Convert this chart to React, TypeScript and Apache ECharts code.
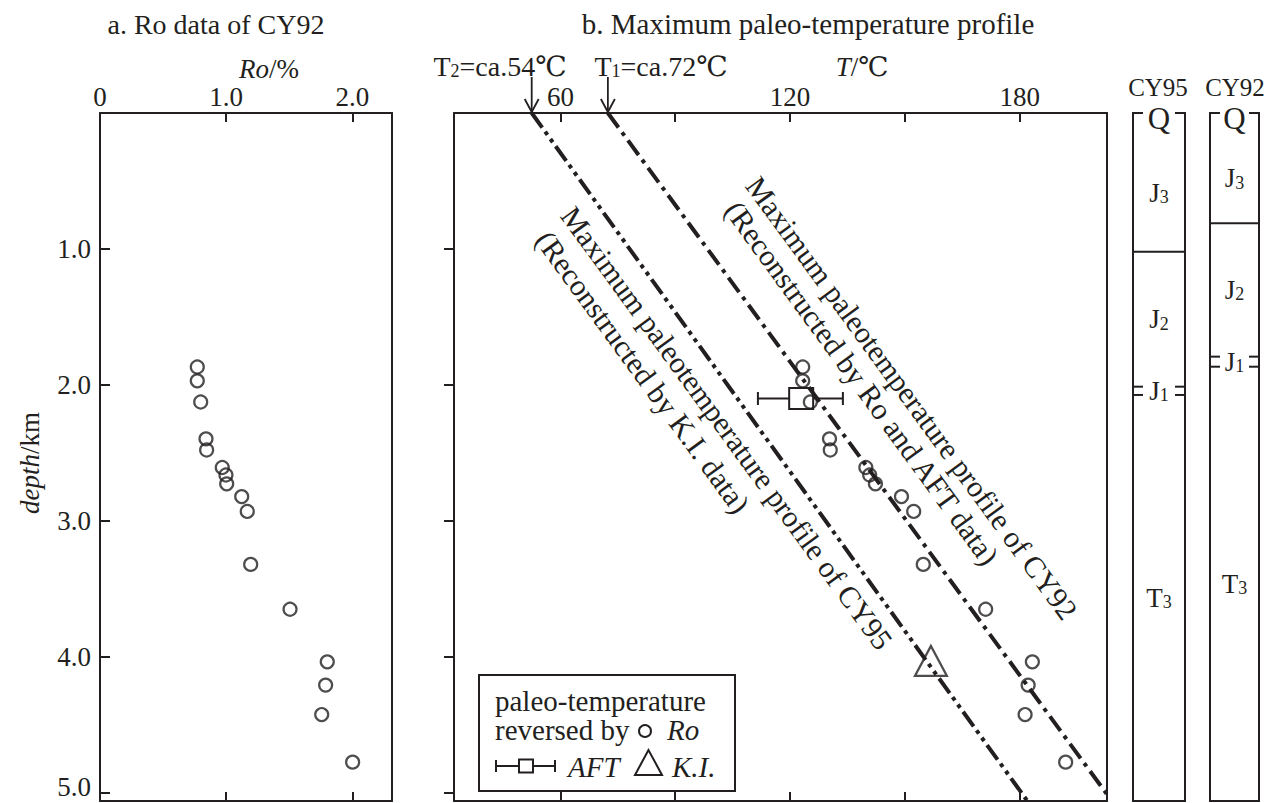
import React, { useEffect, useRef } from 'react';
import * as echarts from 'echarts';

const INK = '#231f20';
const FONT = "'Liberation Serif', 'Times New Roman', 'DejaVu Serif', serif";

// ---- a. Ro data of CY92 ----
const sampleDepths = [1.869, 1.971, 2.127, 2.398, 2.48, 2.609, 2.664, 2.729, 2.823, 2.932, 3.322, 3.652, 4.039, 4.21, 4.427, 4.777];
const roValues = [0.771, 0.771, 0.798, 0.84, 0.845, 0.969, 0.998, 1.004, 1.123, 1.167, 1.194, 1.506, 1.801, 1.788, 1.757, 2.002];

// ---- b. paleo-temperatures reversed by Ro (same depths) ----
const roTemps = [123.3, 123.3, 125.3, 130.3, 130.5, 139.8, 140.8, 142.3, 149.1, 152.3, 154.8, 171.1, 183.3, 182.2, 181.4, 192.0];

// AFT: [low, high, central temperature, depth]
const aftPoint = [111.6, 133.8, 122.9, 2.101];
// K.I.: [temperature, depth]
const kiPoint = [156.8, 4.032];

// reconstructed maximum paleotemperature profiles [T, depth]
const cy92Profile = [[72.4, 0], [202.7, 5.01]];
const cy95Profile = [[52.5, 0], [182.0, 5.063]];
const surfaceTemps = [52.5, 72.4];

// axis ticks
const depthTicks = [1, 2, 3, 4, 5];
const roLabelTicks = [0, 1, 2];
const roInnerTicks = [1, 2];
const tempTicks = [60, 90, 120, 150, 180];
const tempLabelTicks = [60, 120, 180];

// strata columns
const cy95Names = ['Q', 'J', 'J', 'J', 'T'];
const cy95Subs = ['', '3', '2', '1', '3'];
const cy95Tops = [0, 0.15, 1.021, 2.014, 2.075];
const cy95Bottoms = [0.15, 1.021, 2.014, 2.075, 5.063];
const cy95Kinds = ['cap', 'main', 'main', 'thin', 'main'];

const cy92Names = ['Q', 'J', 'J', 'J', 'T'];
const cy92Subs = ['', '3', '2', '1', '3'];
const cy92Tops = [0, 0.15, 0.812, 1.793, 1.867];
const cy92Bottoms = [0.15, 0.812, 1.793, 1.867, 5.063];
const cy92Kinds = ['cap', 'main', 'main', 'thin', 'main'];

const DEPTH_MAX = 5.063;

function strataSeries(axisIndex: number, names: string[], subs: string[], tops: number[], bottoms: number[], kinds: string[]) {
  return {
    type: 'custom',
    xAxisIndex: axisIndex,
    yAxisIndex: axisIndex,
    clip: false,
    silent: true,
    data: tops.map((t, i) => [0.5, t, bottoms[i]]),
    renderItem: (params: any, api: any) => {
      const i = params.dataIndex;
      const cs = params.coordSys;
      const xL = cs.x;
      const xR = cs.x + cs.width;
      const xc = (xL + xR) / 2;
      const yT = api.coord([0, api.value(1)])[1];
      const yB = api.coord([0, api.value(2)])[1];
      const kind = kinds[i];
      const children: any[] = [];
      const ln = (x1: number, y1: number, x2: number, y2: number) => ({
        type: 'line',
        shape: { x1, y1, x2, y2 },
        style: { stroke: INK, lineWidth: 2 },
      });
      const seg = 10;
      if (kind === 'cap') {
        const gTop = cs.y;
        const gBot = cs.y + cs.height;
        children.push(ln(xL, gTop, xL, gBot));
        children.push(ln(xR, gTop, xR, gBot));
        children.push(ln(xL - 1, gBot, xR + 1, gBot));
        children.push(ln(xL - 1, gTop, xL + seg, gTop));
        children.push(ln(xR - seg, gTop, xR + 1, gTop));
        children.push({
          type: 'text',
          x: xc,
          y: gTop + 5,
          style: {
            text: names[i],
            fontSize: 31,
            fontFamily: FONT,
            fill: INK,
            align: 'center',
            verticalAlign: 'middle',
            textAlign: 'center',
            textVerticalAlign: 'middle',
          },
        });
      } else {
        children.push({
          type: 'text',
          x: xc,
          y: (yT + yB) / 2,
          style: {
            text: `{b|${names[i]}}{s|${subs[i]}}`,
            fill: INK,
            align: 'center',
            verticalAlign: 'middle',
            textAlign: 'center',
            textVerticalAlign: 'middle',
            rich: {
              b: { fontSize: 27, fontFamily: FONT, fill: INK },
              s: { fontSize: 18, fontFamily: FONT, fill: INK, verticalAlign: 'bottom' },
            },
          },
        });
        if (kind === 'thin') {
          children.push(ln(xL, yT, xL + seg, yT));
          children.push(ln(xR - seg, yT, xR, yT));
          children.push(ln(xL, yB, xL + seg, yB));
          children.push(ln(xR - seg, yB, xR, yB));
        } else if (i < kinds.length - 1 && kinds[i + 1] === 'main') {
          children.push(ln(xL, yB, xR, yB));
        }
      }
      return { type: 'group', children };
    },
  };
}

const axisLineStyle = { show: true, onZero: false, lineStyle: { color: INK, width: 2 } };
const labelStyle = { color: INK, fontSize: 27, fontFamily: FONT };

function buildOption() {
  const hollow = { color: 'rgba(255,255,255,0)', borderColor: INK, borderWidth: 2.2 };
  const rotText = (x: number, y: number, text: string) => ({
    type: 'text',
    x,
    y,
    rotation: -0.94,
    silent: true,
    style: {
      text,
      fontSize: 30,
      fontFamily: FONT,
      fill: INK,
      align: 'center',
      verticalAlign: 'middle',
      textAlign: 'center',
      textVerticalAlign: 'middle',
    },
  });
  const plainText = (x: number, y: number, text: string, size: number, extra: any = {}) => ({
    type: 'text',
    x,
    y,
    silent: true,
    style: {
      text,
      fontSize: size,
      fontFamily: FONT,
      fill: INK,
      align: 'center',
      verticalAlign: 'middle',
      textAlign: 'center',
      textVerticalAlign: 'middle',
      ...extra,
    },
  });
  const richText = (x: number, y: number, text: string, rich: any, align = 'center', rotation = 0) => ({
    type: 'text',
    x,
    y,
    rotation,
    silent: true,
    style: {
      text,
      fill: INK,
      align,
      verticalAlign: 'middle',
      textAlign: align,
      textVerticalAlign: 'middle',
      rich,
    },
  });
  const rn = (size: number) => ({ fontSize: size, fontFamily: FONT, fill: INK });
  const ri = (size: number) => ({ fontSize: size, fontFamily: FONT, fill: INK, fontStyle: 'italic' });
  const rs = (size: number) => ({ fontSize: size, fontFamily: FONT, fill: INK, verticalAlign: 'bottom' });

  const gridBase = { outerBoundsMode: 'none', containLabel: false };

  return {
    animation: false,
    backgroundColor: '#ffffff',
    grid: [
      { ...gridBase, left: 100, top: 113, width: 292, height: 688 },
      { ...gridBase, left: 454, top: 113, width: 653, height: 688 },
      { ...gridBase, left: 1133, top: 113, width: 52, height: 688 },
      { ...gridBase, left: 1210, top: 113, width: 49, height: 688 },
    ],
    xAxis: [
      {
        gridIndex: 0, type: 'value', position: 'top', min: 0, max: 2.314,
        axisLine: axisLineStyle,
        axisTick: { show: true, inside: true, length: 9, customValues: roInnerTicks, lineStyle: { color: INK, width: 2 } },
        axisLabel: { ...labelStyle, margin: 3, customValues: roLabelTicks, formatter: (v: number) => (v === 0 ? '0' : v.toFixed(1)) },
        splitLine: { show: false },
      },
      {
        gridIndex: 0, type: 'value', position: 'bottom', min: 0, max: 2.314,
        axisLine: axisLineStyle,
        axisTick: { show: true, inside: true, length: 9, customValues: roInnerTicks, lineStyle: { color: INK, width: 2 } },
        axisLabel: { show: false },
        splitLine: { show: false },
      },
      {
        gridIndex: 1, type: 'value', position: 'top', min: 32.2, max: 202.8,
        axisLine: axisLineStyle,
        axisTick: { show: true, inside: true, length: 9, customValues: tempTicks, lineStyle: { color: INK, width: 2 } },
        axisLabel: { ...labelStyle, margin: 3, customValues: tempLabelTicks, formatter: (v: number) => String(v) },
        splitLine: { show: false },
      },
      {
        gridIndex: 1, type: 'value', position: 'bottom', min: 32.2, max: 202.8,
        axisLine: axisLineStyle,
        axisTick: { show: true, inside: true, length: 9, customValues: tempTicks, lineStyle: { color: INK, width: 2 } },
        axisLabel: { show: false },
        splitLine: { show: false },
      },
      { gridIndex: 2, type: 'value', min: 0, max: 1, show: false },
      { gridIndex: 3, type: 'value', min: 0, max: 1, show: false },
    ],
    yAxis: [
      {
        gridIndex: 0, type: 'value', position: 'left', inverse: true, min: 0, max: DEPTH_MAX,
        axisLine: axisLineStyle,
        axisTick: { show: true, inside: true, length: 10, customValues: depthTicks, lineStyle: { color: INK, width: 2 } },
        axisLabel: {
          ...labelStyle,
          margin: 9,
          lineHeight: 20,
          customValues: depthTicks,
          formatter: (v: number) => (v === 5 ? `{e|${v.toFixed(1)}}` : v.toFixed(1)),
          rich: { e: { ...labelStyle, lineHeight: 20, padding: [0, 0, 10, 0] } },
        },
        splitLine: { show: false },
      },
      {
        gridIndex: 0, type: 'value', position: 'right', inverse: true, min: 0, max: DEPTH_MAX,
        axisLine: axisLineStyle, axisTick: { show: false }, axisLabel: { show: false }, splitLine: { show: false },
      },
      {
        gridIndex: 1, type: 'value', position: 'left', inverse: true, min: 0, max: DEPTH_MAX,
        axisLine: axisLineStyle,
        axisTick: { show: true, inside: false, length: 10, customValues: depthTicks, lineStyle: { color: INK, width: 2 } },
        axisLabel: { show: false },
        splitLine: { show: false },
      },
      {
        gridIndex: 1, type: 'value', position: 'right', inverse: true, min: 0, max: DEPTH_MAX,
        axisLine: axisLineStyle, axisTick: { show: false }, axisLabel: { show: false }, splitLine: { show: false },
      },
      { gridIndex: 2, type: 'value', inverse: true, min: 0, max: DEPTH_MAX, show: false },
      { gridIndex: 3, type: 'value', inverse: true, min: 0, max: DEPTH_MAX, show: false },
    ],
    series: [
      {
        name: 'Ro', type: 'scatter', xAxisIndex: 0, yAxisIndex: 0, silent: true,
        symbol: 'circle', symbolSize: 13, itemStyle: hollow, z: 5,
        data: roValues.map((v, i) => [v, sampleDepths[i]]),
      },
      {
        name: 'CY92 profile', type: 'line', xAxisIndex: 2, yAxisIndex: 2, silent: true,
        symbol: 'none', z: 3,
        lineStyle: { color: INK, width: 4, type: [18, 6, 4, 6] },
        data: cy92Profile,
      },
      {
        name: 'CY95 profile', type: 'line', xAxisIndex: 2, yAxisIndex: 2, silent: true,
        symbol: 'none', z: 3,
        lineStyle: { color: INK, width: 4, type: [18, 5, 4, 5, 4, 5] },
        data: cy95Profile,
      },
      {
        name: 'Ro temperature', type: 'scatter', xAxisIndex: 2, yAxisIndex: 2, silent: true,
        symbol: 'circle', symbolSize: 13, itemStyle: hollow, z: 5,
        data: roTemps.map((v, i) => [v, sampleDepths[i]]),
      },
      {
        name: 'K.I.', type: 'scatter', xAxisIndex: 2, yAxisIndex: 2, silent: true,
        symbol: 'triangle', symbolSize: [32, 30], itemStyle: hollow, z: 5,
        data: [kiPoint],
      },
      {
        name: 'AFT', type: 'custom', xAxisIndex: 2, yAxisIndex: 2, clip: false, silent: true, z: 6,
        data: [aftPoint],
        renderItem: (params: any, api: any) => {
          const d = api.value(3);
          const lo = api.coord([api.value(0), d]);
          const hi = api.coord([api.value(1), d]);
          const c = api.coord([api.value(2), d]);
          const hw = 12;
          const hh = 10.5;
          const cap = 6.5;
          const st = { stroke: INK, lineWidth: 2, fill: 'none' };
          return {
            type: 'group',
            children: [
              { type: 'line', shape: { x1: lo[0], y1: lo[1], x2: c[0] - hw, y2: c[1] }, style: st },
              { type: 'line', shape: { x1: c[0] + hw, y1: c[1], x2: hi[0], y2: hi[1] }, style: st },
              { type: 'line', shape: { x1: lo[0], y1: lo[1] - cap, x2: lo[0], y2: lo[1] + cap }, style: st },
              { type: 'line', shape: { x1: hi[0], y1: hi[1] - cap, x2: hi[0], y2: hi[1] + cap }, style: st },
              { type: 'rect', shape: { x: c[0] - hw, y: c[1] - hh, width: hw * 2, height: hh * 2 }, style: st },
            ],
          };
        },
      },
      {
        name: 'surface arrows', type: 'custom', xAxisIndex: 2, yAxisIndex: 2, clip: false, silent: true,
        data: surfaceTemps.map((t) => [t, 0]),
        renderItem: (params: any, api: any) => {
          const p = api.coord([api.value(0), 0]);
          const x = p[0];
          const y = p[1];
          const st = { stroke: INK, lineWidth: 1.8, fill: 'none' };
          return {
            type: 'group',
            children: [
              { type: 'line', shape: { x1: x, y1: y - 36, x2: x, y2: y - 1 }, style: st },
              { type: 'polyline', shape: { points: [[x - 7, y - 14], [x, y - 1], [x + 7, y - 14]] }, style: st },
            ],
          };
        },
      },
      strataSeries(4, cy95Names, cy95Subs, cy95Tops, cy95Bottoms, cy95Kinds),
      strataSeries(5, cy92Names, cy92Subs, cy92Tops, cy92Bottoms, cy92Kinds),
    ],
    graphic: [
      plainText(216, 24, 'a. Ro data of CY92', 28),
      plainText(808, 24, 'b. Maximum paleo-temperature profile', 29),
      richText(269, 69, '{i|Ro}{n|/%}', { i: ri(27), n: rn(27) }),
      richText(862, 67, '{i|T}{n|/℃}', { i: ri(27), n: rn(27) }),
      richText(500, 66, '{n|T}{s|2}{n|=ca.54℃}', { n: rn(28), s: rs(18) }),
      richText(661, 66, '{n|T}{s|1}{n|=ca.72℃}', { n: rn(28), s: rs(18) }),
      richText(30, 463, '{i|depth}{n|/km}', { i: ri(27), n: rn(27) }, 'center', Math.PI / 2),
      plainText(1158, 87, 'CY95', 25),
      plainText(1235, 87, 'CY92', 25),
      rotText(912, 398, 'Maximum paleotemperature profile of CY92'),
      rotText(862, 383, '(Reconstructed by Ro and AFT data)'),
      rotText(727, 428, 'Maximum paleotemperature profile of CY95'),
      rotText(643, 372, '(Reconstructed by K.I. data)'),
      // legend box
      {
        type: 'rect', silent: true,
        shape: { x: 479, y: 675, width: 256, height: 116 },
        style: { fill: '#ffffff', stroke: INK, lineWidth: 2 },
        z: 10,
      },
      { ...plainText(495, 701, 'paleo-temperature', 29, { align: 'left', textAlign: 'left' }), z: 11 },
      { ...plainText(495, 730, 'reversed by', 29, { align: 'left', textAlign: 'left' }), z: 11 },
      { type: 'circle', silent: true, z: 11, shape: { cx: 645, cy: 731, r: 6 }, style: { fill: 'none', stroke: INK, lineWidth: 2 } },
      { ...richText(667, 730, '{i|Ro}', { i: ri(29) }, 'left'), z: 11 },
      { type: 'line', silent: true, z: 11, shape: { x1: 496, y1: 766, x2: 519, y2: 766 }, style: { stroke: INK, lineWidth: 2 } },
      { type: 'line', silent: true, z: 11, shape: { x1: 533, y1: 766, x2: 555, y2: 766 }, style: { stroke: INK, lineWidth: 2 } },
      { type: 'line', silent: true, z: 11, shape: { x1: 496, y1: 760, x2: 496, y2: 772 }, style: { stroke: INK, lineWidth: 2 } },
      { type: 'line', silent: true, z: 11, shape: { x1: 555, y1: 760, x2: 555, y2: 772 }, style: { stroke: INK, lineWidth: 2 } },
      { type: 'rect', silent: true, z: 11, shape: { x: 519, y: 759.5, width: 14, height: 13 }, style: { fill: 'none', stroke: INK, lineWidth: 2 } },
      { ...richText(568, 767, '{i|AFT}', { i: ri(29) }, 'left'), z: 11 },
      { type: 'polygon', silent: true, z: 11, shape: { points: [[648.5, 750], [635, 775], [662, 775]] }, style: { fill: 'none', stroke: INK, lineWidth: 2 } },
      { ...richText(672, 767, '{i|K.I.}', { i: ri(29) }, 'left'), z: 11 },
    ],
  };
}

export default function App() {
  const ref = useRef<HTMLDivElement>(null);
  useEffect(() => {
    if (!ref.current) return;
    const chart = echarts.init(ref.current, undefined, { renderer: 'svg' });
    chart.setOption(buildOption() as any);
    return () => {
      chart.dispose();
    };
  }, []);
  return (
    <div
      ref={ref}
      style={{ position: 'absolute', left: 0, top: 0, width: 1276, height: 803, background: '#ffffff' }}
    />
  );
}
